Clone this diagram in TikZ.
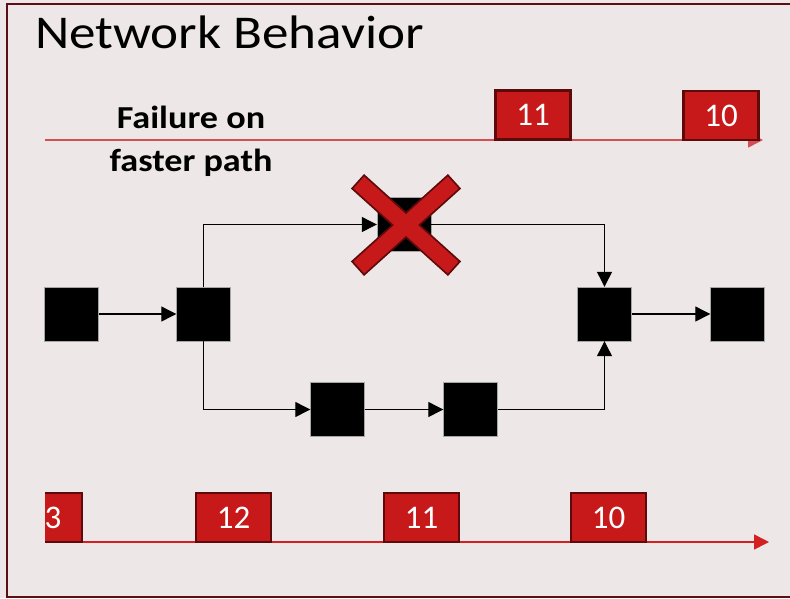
\documentclass[tikz,border=0pt]{standalone}
\usepackage{fontspec}
\setmainfont{Carlito}
\newfontfamily\widefont[FakeStretch=1.13]{Carlito}
\usetikzlibrary{arrows.meta}
\definecolor{bgc}{HTML}{EDE7E7}
\definecolor{framec}{HTML}{5C0F14}
\definecolor{pred}{HTML}{C8191A}
\definecolor{pdark}{HTML}{5E0A0A}
\definecolor{toplinec}{HTML}{D45050}
\definecolor{botlinec}{HTML}{D42020}
\tikzset{
  sq/.style={rectangle, fill=black, draw=gray!70, line width=0.4pt, minimum width=54pt, minimum height=54pt, inner sep=0pt},
  conn/.style={line width=1.2pt, -{Triangle[length=15pt,width=15pt]}},
  packet/.style={rectangle, fill=pred, draw=pdark, line width=2.2pt, minimum width=75pt, minimum height=49pt, inner sep=0pt, text=white, font=\fontsize{33}{38}\selectfont},
  xbar/.style={rectangle, draw=pdark, line width=3.6pt, fill=pred, minimum width=127pt, minimum height=16pt, inner sep=0pt, outer sep=0pt},
  tline/.style={line width=1.5pt, -{Triangle[length=15pt,width=15pt]}},
}
\begin{document}
\begin{tikzpicture}[x=1pt,y=-1pt]
\useasboundingbox (0,0) rectangle (790,598);
\begin{scope}
\clip (0,0) rectangle (790,598);
\fill[bgc] (0,0) rectangle (790,598);
\draw[framec, line width=2pt] (7,4) rectangle (820,597);
\end{scope}

% title
\node[anchor=base west, inner sep=0pt, font=\widefont\fontsize{47}{56}\selectfont] (title) at (35,48) {Network Behavior};

% top timeline
\coordinate (t0) at (45,140);
\coordinate (t1) at (763,140);
\draw[tline, toplinec] (t0) -- (t1);
\node[packet] (pt11) at (533,115) {11};
\node[packet] (pt10) at (721,115.5) {10};

\node[align=center, inner sep=0pt, font=\widefont\bfseries\fontsize{32}{43}\selectfont] (fail) at (191,141) {Failure on\\faster path};

% network nodes
\node[sq] (A) at (71.5,314) {};
\node[sq] (B) at (203.5,314) {};
\node[sq] (C) at (404,224.5) {};
\node[sq] (D) at (604.5,314) {};
\node[sq] (E) at (737.5,314) {};
\node[sq] (F) at (337.5,409.5) {};
\node[sq] (G) at (470.5,409.5) {};

\draw[conn] (A) -- (B);
\draw[conn] (B.north) |- (C.west);
\draw[conn] (C.east) -| (D.north);
\draw[conn] (B.south) |- (F.west);
\draw[conn] (F) -- (G);
\draw[conn] (G.east) -| (D.south);
\draw[conn] (D) -- (E);

% X mark
\node[xbar, rotate=42] (xa) at (406,225) {};
\node[xbar, rotate=-42] (xb) at (406,225) {};
\fill[pred] (xa.north west) -- (xa.north east) -- (xa.south east) -- (xa.south west) -- cycle;
\fill[pred] (xb.north west) -- (xb.north east) -- (xb.south east) -- (xb.south west) -- cycle;

% bottom timeline
\coordinate (b0) at (45,542);
\coordinate (b1) at (769,542);
\draw[tline, botlinec] (b0) -- (b1);
\begin{scope}
\clip (45,480) rectangle (300,570);
\node[packet] (pb13) at (44.5,517.5) {13};
\end{scope}
\node[packet] (pb12) at (233.5,517.5) {12};
\node[packet] (pb11) at (421.5,517.5) {11};
\node[packet] (pb10) at (608.5,517.5) {10};
\end{tikzpicture}
\end{document}
